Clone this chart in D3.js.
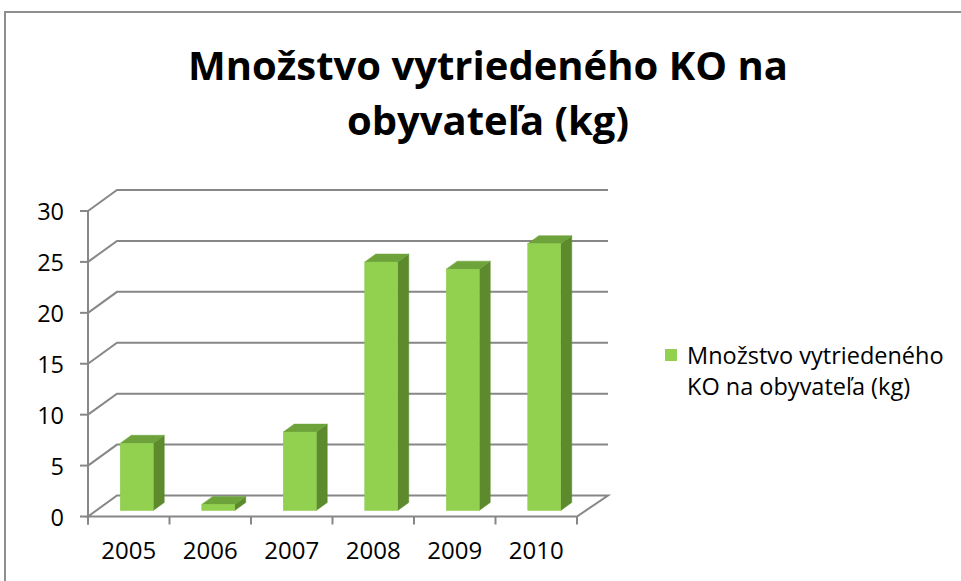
<!DOCTYPE html>
<html lang="sk">
  <head>
    <meta charset="utf-8">
    <title>Množstvo vytriedeného KO</title>
    <script src="https://d3js.org/d3.v7.min.js"></script>
    <style type="text/css">
      html, body {
        margin: 0; padding: 0;
        background: #fff;
      }
      svg text {
        font-family: "Open Sans", sans-serif;
        fill: #000;
      }
    </style>
  </head>

  <body>
    <svg width="961" height="581"></svg>

    <script type="text/javascript">

      // data
      var years = ["2005", "2006", "2007", "2008", "2009", "2010"];
      var values = [6.6, 0.6, 7.7, 24.4, 23.7, 26.2];
      var yTicks = [0, 5, 10, 15, 20, 25, 30];
      var titleLines = ["Množstvo vytriedeného KO na", "obyvateľa (kg)"];
      var legendLines = ["Množstvo vytriedeného", "KO na obyvateľa (kg)"];

      var svg = d3.select("svg");
      var grey = "#878787";

      // outer frame (only top and left edges visible)
      svg.append("path")
         .attr("d", "M5,581 L5,12 L961,12")
         .attr("fill", "none")
         .attr("stroke", "#8e8e8e")
         .attr("stroke-width", 2);

      // title
      svg.append("text")
         .attr("x", 488)
         .attr("text-anchor", "middle")
         .style("font-weight", "bold")
         .style("font-size", "40px")
         .selectAll("tspan")
         .data(titleLines)
         .enter()
         .append("tspan")
         .attr("x", 488)
         .attr("y", function(d, i) { return 80 + i * 55; })
         .text(function(d) { return d; });

      // scales for the front plane; depth goes up and to the right
      var x = d3.scaleBand().domain(years).range([88, 577]);
      var y = d3.scaleLinear().domain([0, 30]).range([516.5, 211]);
      var depthX = 29, depthY = -21;

      var gridG = svg.append("g");
      var barG = svg.append("g");
      var axisG = svg.append("g");

      // gridlines: diagonal on the side wall, then along the back wall
      gridG.selectAll("path.grid")
           .data(yTicks.slice(1))
           .enter()
           .append("path")
           .attr("class", "grid")
           .attr("d", function(d) {
             var yy = y(d);
             return "M88," + yy + " L" + (88 + depthX) + "," + (yy + depthY) +
                    " L608," + (yy + depthY);
           })
           .attr("fill", "none")
           .attr("stroke", grey)
           .attr("stroke-width", 2);

      // floor
      var y0 = y(0);
      gridG.append("path")
           .attr("d", "M88," + y0 + " L" + (88 + depthX) + "," + (y0 + depthY) +
                      " L608," + (y0 + depthY) + " L577," + y0 + " Z")
           .attr("fill", "none")
           .attr("stroke", grey)
           .attr("stroke-width", 2);

      // 3D bars
      var barW = 33;
      var offX = 8, offY = -6;      // front face sits a little into the depth
      var bdx = 11, bdy = -8;       // bar depth

      function pts(a) {
        return a.map(function(p) { return p.join(","); }).join(" ");
      }

      var bars = barG.selectAll("g")
                     .data(years.map(function(yr, i) { return {year: yr, value: values[i]}; }))
                     .enter()
                     .append("g");

      bars.append("polygon")
          .attr("points", function(d) {
            var x0 = x(d.year) + x.bandwidth() / 2 - barW / 2 + offX;
            var yb = y(0) + offY, yt = y(d.value) + offY;
            return pts([[x0 + barW, yb], [x0 + barW + bdx, yb + bdy],
                        [x0 + barW + bdx, yt + bdy], [x0 + barW, yt]]);
          })
          .attr("fill", "#5c8a2c")
          .attr("stroke", "#5c8a2c")
          .attr("stroke-width", 0.5);

      bars.append("polygon")
          .attr("points", function(d) {
            var x0 = x(d.year) + x.bandwidth() / 2 - barW / 2 + offX;
            var yt = y(d.value) + offY;
            return pts([[x0, yt], [x0 + barW, yt], [x0 + barW + bdx, yt + bdy], [x0 + bdx, yt + bdy]]);
          })
          .attr("fill", "#6da33a")
          .attr("stroke", "#6da33a")
          .attr("stroke-width", 0.5);

      bars.append("rect")
          .attr("x", function(d) { return x(d.year) + x.bandwidth() / 2 - barW / 2 + offX; })
          .attr("y", function(d) { return y(d.value) + offY; })
          .attr("width", barW)
          .attr("height", function(d) { return y(0) - y(d.value); })
          .attr("fill", "#92d050")
          .attr("stroke", "#8ccb4b")
          .attr("stroke-width", 0.5);

      // value axis
      axisG.append("line")
           .attr("x1", 88).attr("x2", 88)
           .attr("y1", y(30)).attr("y2", y(0) + 8)
           .attr("stroke", grey).attr("stroke-width", 2);

      axisG.selectAll("line.ytick")
           .data(yTicks)
           .enter()
           .append("line")
           .attr("class", "ytick")
           .attr("x1", 80).attr("x2", 88)
           .attr("y1", function(d) { return y(d); })
           .attr("y2", function(d) { return y(d); })
           .attr("stroke", grey).attr("stroke-width", 2);

      axisG.selectAll("text.ylab")
           .data(yTicks)
           .enter()
           .append("text")
           .attr("class", "ylab")
           .attr("x", 64)
           .attr("y", function(d) { return y(d) + 9; })
           .attr("text-anchor", "end")
           .style("font-size", "23.5px")
           .text(function(d) { return d; });

      // category axis ticks at band edges
      var edges = years.map(function(yr) { return x(yr); }).concat([x.range()[1]]);
      axisG.selectAll("line.xtick")
           .data(edges)
           .enter()
           .append("line")
           .attr("class", "xtick")
           .attr("x1", function(d) { return d; })
           .attr("x2", function(d) { return d; })
           .attr("y1", y(0))
           .attr("y2", y(0) + 8)
           .attr("stroke", grey).attr("stroke-width", 2);

      axisG.selectAll("text.xlab")
           .data(years)
           .enter()
           .append("text")
           .attr("class", "xlab")
           .attr("x", function(d) { return x(d) + x.bandwidth() / 2; })
           .attr("y", 559)
           .attr("text-anchor", "middle")
           .style("font-size", "24px")
           .text(function(d) { return d; });

      // legend
      var legend = svg.append("g");
      legend.append("rect")
            .attr("x", 665).attr("y", 349)
            .attr("width", 12).attr("height", 12)
            .attr("fill", "#92d050");
      legend.append("text")
            .style("font-size", "23.5px")
            .selectAll("tspan")
            .data(legendLines)
            .enter()
            .append("tspan")
            .attr("x", 687)
            .attr("y", function(d, i) { return 364 + i * 31; })
            .text(function(d) { return d; });

    </script>
  </body>
</html>
